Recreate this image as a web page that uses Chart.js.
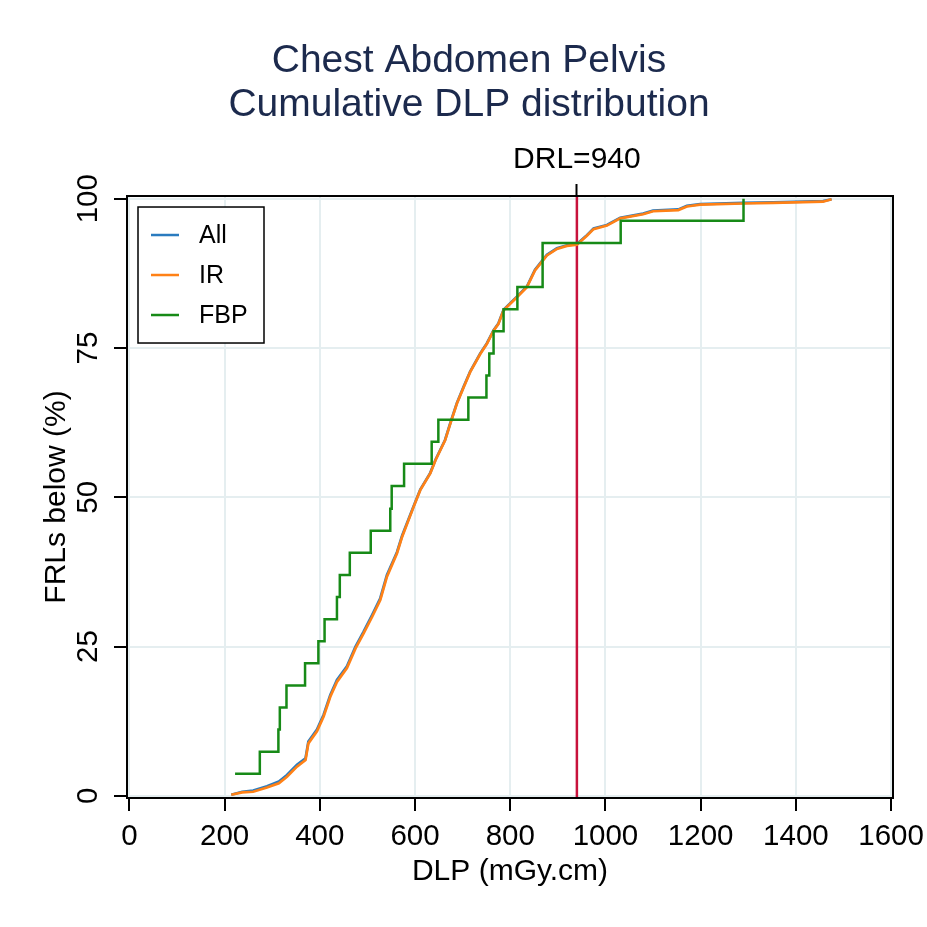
<!DOCTYPE html>
<html>
<head>
<meta charset="utf-8">
<script src="https://cdn.jsdelivr.net/npm/chart.js@4.4.1/dist/chart.umd.min.js"></script>
<style>
html, body { margin: 0; padding: 0; background: #fff; }
</style>
</head>
<body>
<canvas id="myChart" width="927" height="927"></canvas>
<script>
// DLP values (mGy.cm) and cumulative %
const allDLP = [214, 237, 260, 289, 314, 331, 352, 370, 376, 394, 408, 422, 436, 457, 475, 492, 510, 527, 541, 562, 573, 597, 611, 632, 643, 663, 674, 688, 702, 716, 737, 751, 765, 775, 786, 814, 835, 852, 863, 877, 898, 919, 940, 961, 975, 1003, 1031, 1079, 1100, 1153, 1171, 1199, 1289, 1352, 1457, 1475];
const allPct = [0.2, 0.7, 0.9, 1.6, 2.4, 3.5, 5.2, 6.3, 9.1, 11.1, 13.6, 16.9, 19.4, 21.7, 25.0, 27.5, 30.3, 33.1, 37.0, 40.8, 43.6, 48.5, 51.3, 54.1, 56.3, 59.6, 62.4, 65.8, 68.5, 71.1, 74.1, 75.8, 78.0, 79.1, 81.4, 83.6, 85.3, 88.1, 89.2, 90.6, 91.7, 92.2, 92.4, 93.9, 95.0, 95.6, 96.8, 97.5, 98.0, 98.2, 98.8, 99.1, 99.3, 99.4, 99.6, 99.9];

const irDLP = [214, 237, 260, 289, 314, 331, 352, 370, 376, 394, 408, 422, 436, 457, 475, 492, 510, 527, 541, 562, 573, 597, 611, 632, 643, 663, 674, 688, 702, 716, 737, 751, 765, 775, 786, 814, 835, 852, 863, 877, 898, 919, 940, 961, 975, 1003, 1031, 1079, 1100, 1153, 1171, 1199, 1289, 1352, 1457, 1475];
const irPct = [0.2, 0.6, 0.7, 1.4, 2.1, 3.2, 4.9, 6.0, 8.8, 10.8, 13.3, 16.6, 19.1, 21.4, 24.7, 27.2, 30.0, 32.8, 36.7, 40.6, 43.4, 48.4, 51.2, 54.0, 56.2, 59.5, 62.3, 65.7, 68.4, 71.0, 74.0, 75.7, 77.9, 79.0, 81.3, 83.5, 85.2, 88.0, 89.1, 90.5, 91.6, 92.1, 92.3, 93.8, 94.9, 95.5, 96.7, 97.4, 97.9, 98.1, 98.7, 99.0, 99.2, 99.3, 99.5, 99.9];

const fbpDLP = [222, 274, 313, 316, 330, 369, 397, 410, 436, 442, 463, 507, 548, 551, 577, 635, 649, 712, 750, 756, 765, 786, 815, 868, 868, 1032, 1290];
const fbpPct = [3.7, 7.4, 11.1, 14.8, 18.5, 22.2, 25.9, 29.6, 33.3, 37.0, 40.7, 44.4, 48.1, 51.9, 55.6, 59.3, 63.0, 66.7, 70.4, 74.1, 77.8, 81.5, 85.2, 88.9, 92.6, 96.3, 100];

const xTicks = [0, 200, 400, 600, 800, 1000, 1200, 1400, 1600];
const yTicks = [0, 25, 50, 75, 100];
const drlValue = 940;

const seriesNames = ['All', 'IR', 'FBP'];
const seriesColors = ['#2a7bbf', '#ff8116', '#178a17'];
const drlColor = '#c8123c';
const gridColor = '#e5eef0';
const fontFamily = '"Liberation Sans", Arial, sans-serif';

function toPoints(xs, ys) {
    return xs.map((v, i) => ({ x: v, y: ys[i] }));
}

// vertical DRL line through the x scale
const drlLine = {
    id: 'drlLine',
    beforeDatasetsDraw(chart) {
        const ctx = chart.ctx;
        const area = chart.chartArea;
        const x = chart.scales.x.getPixelForValue(drlValue);
        ctx.save();
        ctx.strokeStyle = drlColor;
        ctx.lineWidth = 2.5;
        ctx.beginPath();
        ctx.moveTo(x, area.top);
        ctx.lineTo(x, area.bottom);
        ctx.stroke();
        ctx.restore();
    }
};

// black frame round the plot region
const frame = {
    id: 'frame',
    afterDatasetsDraw(chart) {
        const ctx = chart.ctx;
        const a = chart.chartArea;
        ctx.save();
        ctx.strokeStyle = '#000';
        ctx.lineWidth = 2;
        ctx.strokeRect(a.left, a.top, a.right - a.left, a.bottom - a.top);
        ctx.restore();
    }
};

// legend box inside the plot, top left
const innerLegend = {
    id: 'innerLegend',
    afterDraw(chart) {
        const ctx = chart.ctx;
        const a = chart.chartArea;
        const bx = a.left + 11;
        const by = a.top + 11;
        ctx.save();
        ctx.fillStyle = '#fff';
        ctx.fillRect(bx, by, 126, 136);
        ctx.strokeStyle = '#000';
        ctx.lineWidth = 1.5;
        ctx.strokeRect(bx, by, 126, 136);
        ctx.font = '25px ' + fontFamily;
        ctx.textBaseline = 'middle';
        ctx.textAlign = 'left';
        seriesNames.forEach((name, i) => {
            const y = by + 28 + i * 40;
            ctx.strokeStyle = seriesColors[i];
            ctx.lineWidth = 2.5;
            ctx.beginPath();
            ctx.moveTo(bx + 13, y);
            ctx.lineTo(bx + 41, y);
            ctx.stroke();
            ctx.fillStyle = '#000';
            ctx.fillText(name, bx + 61, y + 1);
        });
        ctx.restore();
    }
};

// keep the plot edges fixed, labels may overhang into the margin
function fixHoriz(height) {
    return s => {
        s.height = height;
        s.paddingLeft = 0;
        s.paddingRight = 0;
    };
}

const ctx = document.getElementById('myChart').getContext('2d');
new Chart(ctx, {
    type: 'line',
    data: {
        datasets: [
            {
                label: seriesNames[0],
                data: toPoints(allDLP, allPct),
                borderColor: seriesColors[0],
                borderWidth: 2.7,
                pointRadius: 0,
                fill: false,
                order: 3
            },
            {
                label: seriesNames[1],
                data: toPoints(irDLP, irPct),
                borderColor: seriesColors[1],
                borderWidth: 2.7,
                pointRadius: 0,
                fill: false,
                order: 2
            },
            {
                label: seriesNames[2],
                data: toPoints(fbpDLP, fbpPct),
                borderColor: seriesColors[2],
                borderWidth: 2.5,
                pointRadius: 0,
                fill: false,
                stepped: 'before',
                order: 1
            }
        ]
    },
    options: {
        responsive: false,
        animation: false,
        layout: { padding: { left: 45, right: 34, top: 0, bottom: 0 } },
        plugins: {
            legend: { display: false },
            tooltip: { enabled: false },
            title: {
                display: true,
                text: ['Chest Abdomen Pelvis', 'Cumulative DLP distribution'],
                color: '#1c2a4d',
                font: { family: fontFamily, size: 39, weight: 'normal', lineHeight: 1.113 },
                padding: { top: 40, bottom: 10 }
            }
        },
        scales: {
            x: {
                type: 'linear',
                position: 'bottom',
                min: -5,
                max: 1604,
                afterBuildTicks: s => { s.ticks = xTicks.map(v => ({ value: v })); },
                afterFit: fixHoriz(129),
                ticks: {
                    callback: v => String(v),
                    color: '#000',
                    font: { family: fontFamily, size: 29.5 },
                    padding: 8.5,
                    maxRotation: 0,
                    autoSkip: false
                },
                grid: { color: gridColor, lineWidth: 2, tickColor: '#000', tickLength: 13, tickWidth: 2 },
                border: { display: false },
                title: {
                    display: true,
                    text: 'DLP (mGy.cm)',
                    color: '#000',
                    font: { family: fontFamily, size: 30, lineHeight: 1.2 },
                    padding: { top: 0, bottom: 37 }
                }
            },
            xTop: {
                type: 'linear',
                position: 'top',
                min: -5,
                max: 1604,
                afterBuildTicks: s => { s.ticks = [{ value: drlValue }]; },
                afterFit: fixHoriz(59.2),
                ticks: {
                    callback: v => 'DRL=' + v,
                    color: '#000',
                    font: { family: fontFamily, size: 30 },
                    padding: 6.5,
                    maxRotation: 0,
                    autoSkip: false
                },
                grid: { drawOnChartArea: false, tickColor: '#000', tickLength: 12, tickWidth: 2 },
                border: { display: false }
            },
            y: {
                type: 'linear',
                min: -0.35,
                max: 100.45,
                afterBuildTicks: s => { s.ticks = yTicks.map(v => ({ value: v })); },
                afterFit: s => { s.width = 82; s.paddingTop = 0; s.paddingBottom = 0; },
                ticks: {
                    callback: v => String(v),
                    color: '#000',
                    font: { family: fontFamily, size: 29.5 },
                    minRotation: 90,
                    maxRotation: 90,
                    crossAlign: 'center',
                    padding: 1,
                    autoSkip: false
                },
                grid: { color: gridColor, lineWidth: 2, tickColor: '#000', tickLength: 13, tickWidth: 2 },
                border: { display: false },
                title: {
                    display: true,
                    text: 'FRLs below (%)',
                    color: '#000',
                    font: { family: fontFamily, size: 30, lineHeight: 0.8 },
                    padding: 0
                }
            }
        }
    },
    plugins: [drlLine, frame, innerLegend]
});
</script>
</body>
</html>
